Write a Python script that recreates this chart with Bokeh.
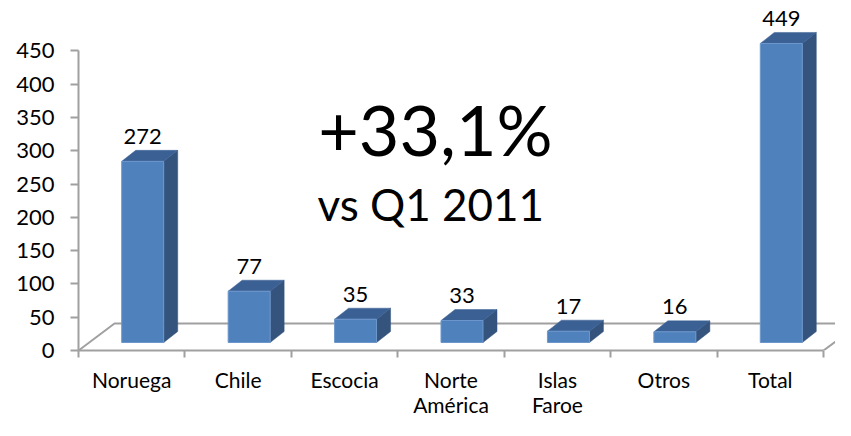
from bokeh.plotting import figure
from bokeh.models import Range1d, FixedTicker, Label, ColumnDataSource
from bokeh.embed import file_html
from bokeh.resources import INLINE

# ---- data ----
categories = ["Noruega", "Chile", "Escocia", "Norte\nAmérica", "Islas\nFaroe", "Otros", "Total"]
values = [272, 77, 35, 33, 17, 16, 449]
y_ticks = [0, 50, 100, 150, 200, 250, 300, 350, 400, 450]
headline = "+33,1%"
subline = "vs Q1 2011"

FONT = "Lato"
W, H = 835, 420
LEFT, BOTTOM = 78, 70
PX_X = 106.43          # px per category unit
PX_Y = 0.666           # px per value unit

x_end = (W - LEFT) / PX_X
y_end = (H - BOTTOM) / PX_Y

p = figure(width=W, height=H, output_backend="svg", toolbar_location=None,
           x_range=Range1d(0, x_end), y_range=Range1d(0, y_end),
           min_border_left=LEFT, min_border_bottom=BOTTOM,
           min_border_top=0, min_border_right=0)
p.outline_line_color = None
p.xgrid.visible = False
p.ygrid.visible = False
p.background_fill_color = "white"
p.border_fill_color = "white"

GRAY = "#a0a0a0"
n = len(categories)

# floor (3D base)
fdx, fdy = 36 / PX_X, 27 / PX_Y
p.line([0, fdx, n + fdx, n], [0, fdy, fdy, 0], line_color=GRAY, line_width=2)

# bars
dx, dy = 11 / PX_X, 8 / PX_Y        # front face offset from floor front
ddx, ddy = 14 / PX_X, 11 / PX_Y     # depth of bar
bw = 42 / PX_X
centers = [i + 0.5 + dx for i in range(n)]
lefts = [c - bw / 2 for c in centers]
rights = [c + bw / 2 for c in centers]
tops = [v + dy for v in values]

side_xs = [[r, r + ddx, r + ddx, r] for r in rights]
side_ys = [[dy, dy + ddy, t + ddy, t] for t in tops]
top_xs = [[l, l + ddx, r + ddx, r] for l, r in zip(lefts, rights)]
top_ys = [[t, t + ddy, t + ddy, t] for t in tops]

p.patches(side_xs, side_ys, fill_color="#34537d", line_color="#34537d", line_width=0.5)
p.patches(top_xs, top_ys, fill_color="#3b6094", line_color="#3b6094", line_width=0.5)
p.quad(left=lefts, right=rights, bottom=[dy] * n, top=tops,
       fill_color="#4f81bd", line_color="#6d97cc", line_width=1)

src = ColumnDataSource(dict(x=centers, y=tops, t=[str(v) for v in values]))
p.text(x="x", y="y", text="t", source=src, text_align="center",
       text_baseline="alphabetic", y_offset=-25, text_font_size="22px",
       text_font={"value": FONT}, text_color="black")

# axes
ya = p.yaxis[0]
ya.ticker = FixedTicker(ticks=y_ticks)
ya.bounds = (0, 450)
ya.axis_line_color = GRAY
ya.axis_line_width = 2
ya.major_tick_line_color = GRAY
ya.major_tick_line_width = 2
ya.major_tick_out = 8
ya.major_tick_in = 0
ya.minor_tick_line_color = None
ya.major_label_standoff = 16
ya.major_label_text_font = FONT
ya.major_label_text_font_size = "22px"
ya.major_label_text_color = "black"

xa = p.xaxis[0]
xa.ticker = FixedTicker(ticks=[i + 0.5 for i in range(n)],
                        minor_ticks=list(range(n + 1)))
xa.bounds = (0, n)
xa.axis_line_color = GRAY
xa.axis_line_width = 2
xa.major_tick_line_color = None
xa.major_tick_out = 7
xa.minor_tick_line_color = GRAY
xa.minor_tick_line_width = 2
xa.minor_tick_out = 7
xa.minor_tick_in = 0
xa.major_label_overrides = {i + 0.5: c for i, c in enumerate(categories)}
xa.major_label_standoff = 9
xa.major_label_text_font = FONT
xa.major_label_text_font_size = "21px"
xa.major_label_text_line_height = 1.0
xa.major_label_text_color = "black"

# headline annotation
p.add_layout(Label(x=3.354, y=332, text=headline, text_align="center",
                   text_baseline="alphabetic", text_font=FONT,
                   text_font_size="70px", text_color="black"))
p.add_layout(Label(x=3.31, y=220, text=subline, text_align="center",
                   text_baseline="alphabetic", text_font=FONT,
                   text_font_size="44px", text_color="black"))

open("out.html", "w").write(file_html(p, INLINE))
